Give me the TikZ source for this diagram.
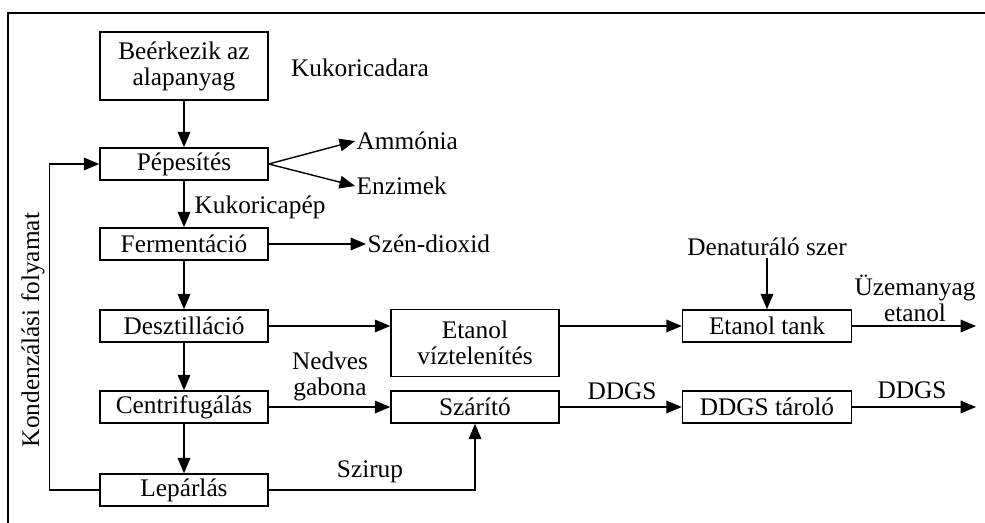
\documentclass[tikz,border=0pt]{standalone}
\usepackage{fontspec}
\setmainfont{Liberation Serif}
\usetikzlibrary{arrows.meta}
\tikzset{
  box/.style={draw, line width=1pt, minimum width=4.2cm, minimum height=0.8cm, inner sep=1pt, align=center},
  lbl/.style={inner sep=1pt, align=center},
  flow/.style={line width=1pt, -{Triangle[length=11pt,width=9pt]}},
}
\begin{document}
\begin{tikzpicture}[x=0.025cm, y=-0.025cm, font=\fontsize{18}{18.5}\selectfont]
    \useasboundingbox (0,0) rectangle (985,523);
    % frame
    \draw[line width=1.2pt] (985,13) -- (8,13) -- (8,523);
    % main column
    \node[box, minimum height=1.7cm] (recv) at (184,66) {Beérkezik az\\alapanyag};
    \node[box] (pep) at (184,164) {Pépesítés};
    \node[box] (ferm) at (184,244) {Fermentáció};
    \node[box] (desz) at (184,326) {Desztilláció};
    \node[box] (cent) at (184,407) {Centrifugálás};
    \node[box] (lep) at (184,490) {Lepárlás};
    % middle column
    \node[box, minimum height=1.675cm] (viz) at (475,343) {Etanol\\víztelenítés};
    \node[box] (szar) at (475,407) {Szárító};
    % right column
    \node[box, minimum width=4.225cm] (tank) at (767,326) {Etanol tank};
    \node[box, minimum width=4.225cm] (ddgs) at (767,407) {DDGS tároló};
    % labels
    \node[lbl] (dara) at (360,68) {Kukoricadara};
    \node[lbl, anchor=west] (amm) at (355,141) {Ammónia};
    \node[lbl, anchor=west] (enz) at (355,186) {Enzimek};
    \node[lbl, anchor=west] (pepl) at (193,207) {Kukoricapép};
    \node[lbl, anchor=west] (co2) at (366,244) {Szén-dioxid};
    \node[lbl, rotate=90] (kond) at (33,330) {Kondenzálási folyamat};
    \node[lbl] (nedv) at (330,376) {Nedves\\gabona};
    \node[lbl] (szir) at (370,472) {Szirup};
    \node[lbl] (den) at (767,247) {Denaturáló szer};
    \node[lbl] (uzem) at (915,298) {Üzemanyag\\etanol};
    \node[lbl] (ddgsa) at (622,391) {DDGS};
    \node[lbl] (ddgsb) at (912,390) {DDGS};
    \coordinate (outa) at (976,326);
    \coordinate (outb) at (976,407);
    % connectors
    \draw[flow] (recv) -- (pep);
    \draw[flow] (pep.east) -- (amm.west);
    \draw[flow] (pep.east) -- (enz.west);
    \draw[flow] (pep) -- (ferm);
    \draw[flow] (ferm.east) -- (co2.west);
    \draw[flow] (ferm) -- (desz);
    \draw[flow] (desz) -- (cent);
    \draw[flow] (cent) -- (lep);
    \draw[flow] (lep.west) -- ++(-50,0) |- (pep.west);
    \draw[flow] (desz.east) -- (desz.east -| viz.west);
    \draw[flow] (cent.east) -- (szar.west);
    \draw[flow] (lep.east) -| (szar.south);
    \draw[flow] (viz.east |- tank.west) -- (tank.west);
    \draw[flow] (den.south) -- (tank.north);
    \draw[flow] (tank.east) -- (outa);
    \draw[flow] (szar.east) -- (ddgs.west);
    \draw[flow] (ddgs.east) -- (outb);
\end{tikzpicture}
\end{document}
